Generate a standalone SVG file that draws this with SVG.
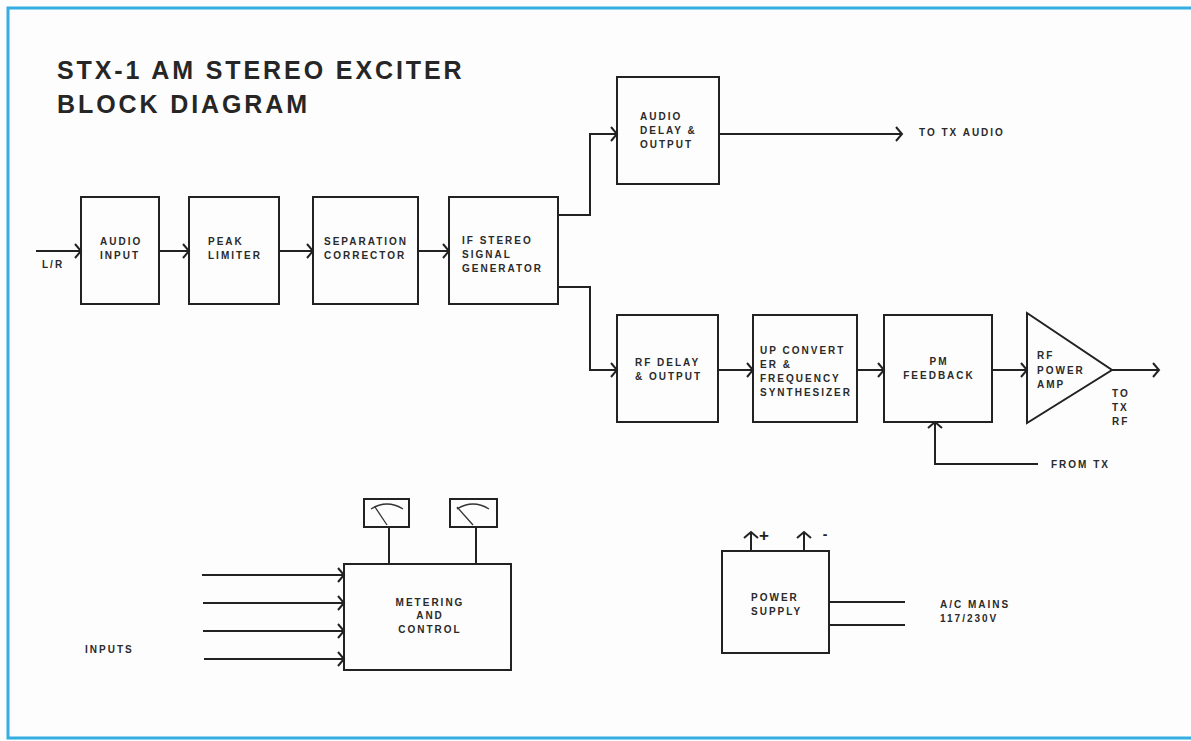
<svg xmlns="http://www.w3.org/2000/svg" width="1191" height="741" viewBox="0 0 1191 741">
<defs>
<style>
.box{fill:none;stroke:#222;stroke-width:2}
.ln{fill:none;stroke:#222;stroke-width:2}
.arr{fill:none;stroke:#222;stroke-width:2;marker-end:url(#chev)}
.t{font-family:"Liberation Sans",Arial,sans-serif;font-size:10px;font-weight:bold;letter-spacing:2px;fill:#2a2a2a}
.tc{text-anchor:middle}
.title{font-family:"Liberation Sans",Arial,sans-serif;font-size:25px;font-weight:bold;letter-spacing:2.9px;fill:#262626}
.thin{fill:none;stroke:#333;stroke-width:1.3}
</style>
<marker id="chev" viewBox="-8 -8 10 16" refX="0" refY="0" markerWidth="10" markerHeight="16" markerUnits="userSpaceOnUse" orient="auto" overflow="visible">
<path d="M-6,-7 L0,0 L-6,7" fill="none" stroke="#222" stroke-width="2"/>
</marker>
</defs>
<rect x="0" y="0" width="1191" height="741" fill="#fdfdfd"/>
<path d="M1191,8 H8 V738 H1191" fill="none" stroke="#34ade2" stroke-width="3"/>
<g id="title">
<text class="title" x="57" y="79">STX-1 AM STEREO EXCITER</text>
<text class="title" x="57" y="113">BLOCK DIAGRAM</text>
</g>
<g id="connectors">
<path class="arr" d="M36,251 H81"/>
<path class="arr" d="M159,251 H189"/>
<path class="arr" d="M279,251 H313"/>
<path class="arr" d="M418,251 H449"/>
<path class="arr" d="M558,215 H590 V134 H617"/>
<path class="arr" d="M558,287 H590 V370 H617"/>
<path class="arr" d="M719,134 H902"/>
<path class="arr" d="M718,370 H753"/>
<path class="arr" d="M857,370 H884"/>
<path class="arr" d="M992,370 H1027"/>
<path class="arr" d="M1112,370 H1159"/>
<path class="arr" d="M1038,464 H935 V422"/>
<path class="arr" d="M202,575 H344"/>
<path class="arr" d="M203,603 H344"/>
<path class="arr" d="M203,631 H344"/>
<path class="arr" d="M204,659 H344"/>
<path class="ln" d="M389,527 V564"/>
<path class="ln" d="M476,527 V564"/>
<path class="arr" d="M751,551 V532"/>
<path class="arr" d="M804,551 V532"/>
<path class="ln" d="M829,602 H905"/>
<path class="ln" d="M829,625 H905"/>
</g>
<g id="labels">
<text class="t" x="42" y="268">L/R</text>
<text class="t" x="919" y="136">TO TX AUDIO</text>
<text class="t" x="1112" y="397">TO</text>
<text class="t" x="1112" y="411">TX</text>
<text class="t" x="1112" y="425">RF</text>
<text class="t" x="1051" y="468">FROM TX</text>
<text class="t" x="85" y="653">INPUTS</text>
<text class="t" x="940" y="608">A/C MAINS</text>
<text class="t" x="940" y="622">117/230V</text>
<text x="764" y="541" font-family="Liberation Sans,Arial,sans-serif" font-size="17" font-weight="bold" text-anchor="middle" fill="#222">+</text>
<text x="825" y="539" font-family="Liberation Sans,Arial,sans-serif" font-size="14" font-weight="bold" text-anchor="middle" fill="#222">-</text>
</g>
<g id="audio-input">
<rect class="box" x="81" y="197" width="78" height="107"/>
<text class="t" x="100" y="245">AUDIO</text>
<text class="t" x="100" y="259">INPUT</text>
</g>
<g id="peak-limiter">
<rect class="box" x="189" y="197" width="90" height="107"/>
<text class="t" x="208" y="245">PEAK</text>
<text class="t" x="208" y="259">LIMITER</text>
</g>
<g id="separation-corrector">
<rect class="box" x="313" y="197" width="105" height="107"/>
<text class="t" x="324" y="245">SEPARATION</text>
<text class="t" x="324" y="259">CORRECTOR</text>
</g>
<g id="if-stereo">
<rect class="box" x="449" y="197" width="109" height="107"/>
<text class="t" x="462" y="244">IF STEREO</text>
<text class="t" x="462" y="258">SIGNAL</text>
<text class="t" x="462" y="272">GENERATOR</text>
</g>
<g id="audio-delay">
<rect class="box" x="617" y="77" width="102" height="107"/>
<text class="t" x="640" y="120">AUDIO</text>
<text class="t" x="640" y="134">DELAY &amp;</text>
<text class="t" x="640" y="148">OUTPUT</text>
</g>
<g id="rf-delay">
<rect class="box" x="617" y="315" width="101" height="107"/>
<text class="t" x="635" y="366">RF DELAY</text>
<text class="t" x="635" y="380">&amp; OUTPUT</text>
</g>
<g id="up-converter">
<rect class="box" x="753" y="315" width="104" height="107"/>
<text class="t" x="760" y="354">UP CONVERT</text>
<text class="t" x="760" y="368">ER &amp;</text>
<text class="t" x="760" y="382">FREQUENCY</text>
<text class="t" x="760" y="396">SYNTHESIZER</text>
</g>
<g id="pm-feedback">
<rect class="box" x="884" y="315" width="108" height="107"/>
<text class="t tc" x="939" y="365">PM</text>
<text class="t tc" x="939" y="379">FEEDBACK</text>
</g>
<g id="rf-power-amp">
<path class="box" d="M1027,313 L1112,370 L1027,423 Z"/>
<text class="t" x="1037" y="359">RF</text>
<text class="t" x="1037" y="374">POWER</text>
<text class="t" x="1037" y="388">AMP</text>
</g>
<g id="meter-1">
<rect class="box" x="364" y="499" width="45" height="28"/>
<path class="thin" d="M371,509 Q387,499 403,509"/>
<path class="thin" d="M387,525 L375,507"/>
</g>
<g id="meter-2">
<rect class="box" x="450" y="499" width="47" height="28"/>
<path class="thin" d="M457,509 Q473,499 489,509"/>
<path class="thin" d="M473,525 L457,507"/>
</g>
<g id="metering-control">
<rect class="box" x="344" y="564" width="167" height="106"/>
<text class="t tc" x="430" y="606">METERING</text>
<text class="t tc" x="430" y="619">AND</text>
<text class="t tc" x="430" y="633">CONTROL</text>
</g>
<g id="power-supply">
<rect class="box" x="722" y="551" width="107" height="102"/>
<text class="t" x="751" y="601">POWER</text>
<text class="t" x="751" y="615">SUPPLY</text>
</g>
</svg>
